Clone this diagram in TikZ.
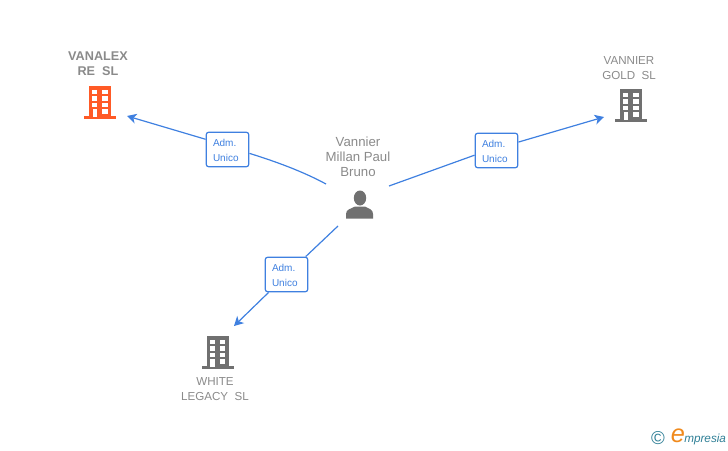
\documentclass[tikz,border=0pt]{standalone}
\usepackage{fontspec}
\setmainfont{Liberation Sans}
\usetikzlibrary{arrows.meta}
\definecolor{linkblue}{HTML}{3F80E0}
\definecolor{namegray}{HTML}{8A8A8A}
\definecolor{iconorange}{HTML}{FF5A26}
\definecolor{icongray}{HTML}{707070}
\definecolor{logoteal}{HTML}{2F7F96}
\definecolor{logoorange}{HTML}{F08A1D}
\newcommand{\roletext}{\rule{0pt}{6.9pt}Adm.\\Unico}
\tikzset{
  company/.style={text=namegray, font=\fontsize{8.7}{11.25}\selectfont, align=center, inner sep=0pt},
  role/.style={draw=linkblue, line width=0.9pt, rounded corners=2pt, fill=white, text=linkblue, font=\fontsize{7.5}{11.25}\selectfont, align=left, text width=21.75pt, minimum width=32pt, minimum height=26pt, inner sep=0pt},
  link/.style={draw=linkblue, line width=0.9pt},
  linkend/.style={link, -{Stealth[length=7pt, width=7.5pt, inset=2pt]}},
  pics/building/.style={code={
    % body and base, origin at the middle of the base
    \fill[#1] (-11,-33.5) rectangle (11,-2);
    \fill[#1] (-16,-3) rectangle (16,0);
    % windows
    \foreach \wy in {-29.5,-23,-16.5} {
      \fill[white] (-8,\wy) rectangle (-3,\wy+4.6);
      \fill[white] (2,\wy) rectangle (7.5,\wy+4.6);
    }
    \fill[white] (2,-10) rectangle (7.5,-5.4);
    \fill[white] (-7.5,-10) rectangle (-3,-2);
  }}
}
\begin{document}
\begin{tikzpicture}[x=0.75pt, y=-0.75pt]
    \useasboundingbox (0,0) rectangle (728,450);

    % Companies
    \pic at (100,119) {building=iconorange};
    \pic at (631,122) {building=icongray};
    \pic at (217.5,369) {building=icongray};

    \node[company, font=\fontsize{9.5}{11.25}\selectfont\bfseries] (vanalex) at (98,63.5) {VANALEX\\RE\ \ SL};
    \node[company] (vannierGold) at (629,68.5) {VANNIER\\GOLD\ \ SL};
    \node[company] (whiteLegacy) at (215,389.5) {WHITE\\LEGACY\ \ SL};

    % Person
    \node[company, font=\fontsize{9.9}{11.25}\selectfont] (person) at (358,157) {Vannier\\Millan Paul\\Bruno};
    \fill[icongray] (360,198) ellipse (6.2 and 7.5);
    \fill[icongray] (346,218.5) -- (346,214) .. controls (346,209) and (351,209) .. (355,206.5) -- (365,206.5) .. controls (369,209) and (373,209) .. (373,214) -- (373,218.5) -- cycle;

    % Role labels
    \node[role] (roleA) at (227.5,149.5) {\roletext};
    \node[role] (roleB) at (496.5,150.5) {\roletext};
    \node[role] (roleC) at (286.5,274.5) {\roletext};

    % Free ends of the links
    \coordinate (personA) at (326,184);
    \coordinate (personB) at (389,186);
    \coordinate (personC) at (338,226);
    \coordinate (tipA) at (127,116);
    \coordinate (tipB) at (604,117);
    \coordinate (tipC) at (234,326);

    % Links
    \draw[link] (personA) .. controls (302,171) and (274,161) .. (roleA.-10);
    \draw[linkend] (roleA.155) -- (tipA);
    \draw[link] (personB) -- (roleB.192);
    \draw[linkend] (roleB.21) -- (tipB);
    \draw[link] (personC) -- (roleC.43);
    \draw[linkend] (roleC.225) -- (tipC);

    % Logo
    \node[text=logoteal, font=\fontsize{14}{14}\selectfont, inner sep=0pt] (copyright) at (658,438.5) {\textcopyright};
    \node[text=logoorange, font=\itshape\fontsize{19}{19}\selectfont, inner sep=0pt] (logoE) at (678,436) {e};
    \node[text=logoteal, font=\itshape\fontsize{8.8}{10}\selectfont, inner sep=0pt, anchor=west] (logoText) at (684,439) {mpresia};
\end{tikzpicture}
\end{document}
